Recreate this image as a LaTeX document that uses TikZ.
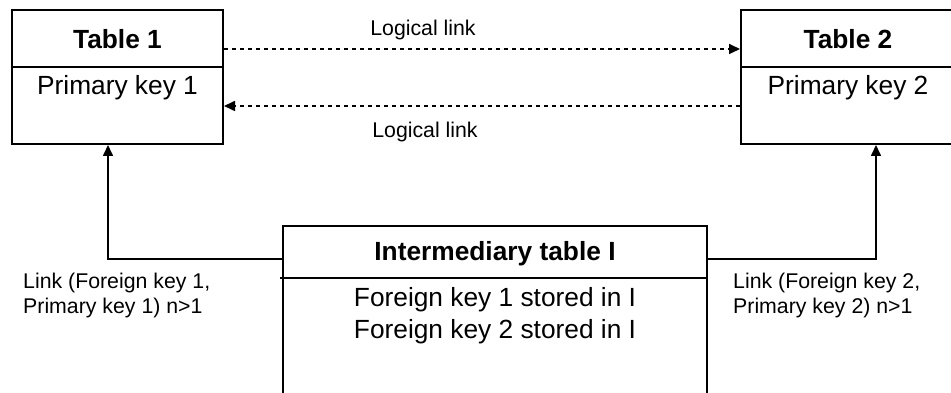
\documentclass[tikz,border=0pt]{standalone}
\usepackage{fontspec}
\setmainfont{Liberation Sans}
\usetikzlibrary{arrows.meta}
\tikzset{
  tablebox/.style={draw, line width=2pt, rectangle, inner sep=0pt},
  divider/.style={line width=1.8pt},
  titletext/.style={font=\fontsize{26.3}{30}\selectfont\bfseries, inner sep=0pt},
  bodytext/.style={font=\fontsize{26.3}{30}\selectfont, inner sep=0pt},
  labeltext/.style={font=\fontsize{21.3}{25}\selectfont, inner sep=0pt, align=left},
  dottedlink/.style={line width=1.6pt, dash pattern=on 4pt off 4pt, -{Triangle[length=11pt,width=10pt]}},
  solidlink/.style={line width=1.6pt, -{Triangle[length=11pt,width=10pt]}}
}
\begin{document}
\begin{tikzpicture}[x=1pt,y=1pt]
\useasboundingbox (0,0) rectangle (951,393);
% boxes
\node[tablebox, minimum width=211pt, minimum height=134pt] (t1) at (117.5,316) {};
\node[tablebox, minimum width=214pt, minimum height=134pt] (t2) at (848,316) {};
\node[tablebox, minimum width=424pt, minimum height=187pt] (im) at (495,73.5) {};
% dividers
\draw[divider] ([yshift=10pt]t1.west) -- ([yshift=10pt]t1.east);
\draw[divider] ([yshift=10pt]t2.west) -- ([yshift=10pt]t2.east);
\draw[divider] ([yshift=41.5pt,xshift=-2pt]im.west) -- ([yshift=41.5pt]im.east);
% texts
\node[titletext] (t1title) at (117.5,354) {Table 1};
\node[bodytext] (t1body) at (117.5,305) {Primary key 1};
\node[titletext] (t2title) at (848,354) {Table 2};
\node[bodytext] (t2body) at (848,305) {Primary key 2};
\node[titletext] (imtitle) at (495,139) {Intermediary table I};
\node[bodytext] (imbody1) at (495,93) {Foreign key 1 stored in I};
\node[bodytext] (imbody2) at (495,61) {Foreign key 2 stored in I};
% logical links
\draw[dottedlink] ([yshift=28pt]t1.east) -- ([yshift=28pt]t2.west);
\draw[dottedlink] ([yshift=-29pt]t2.west) -- ([yshift=-29pt]t1.east);
\node[labeltext] (ll1) at (423,363) {Logical link};
\node[labeltext] (ll2) at (425,261) {Logical link};
% physical links
\draw[solidlink] ([yshift=60.5pt]im.west) -| ([xshift=-9.5pt]t1.south);
\draw[solidlink] ([yshift=60.5pt]im.east) -| ([xshift=28pt]t2.south);
\node[labeltext, anchor=west] (lk1) at (23,97.5) {Link (Foreign key 1,\\Primary key 1) n>1};
\node[labeltext, anchor=west] (lk2) at (733,97.5) {Link (Foreign key 2,\\Primary key 2) n>1};
\end{tikzpicture}
\end{document}
